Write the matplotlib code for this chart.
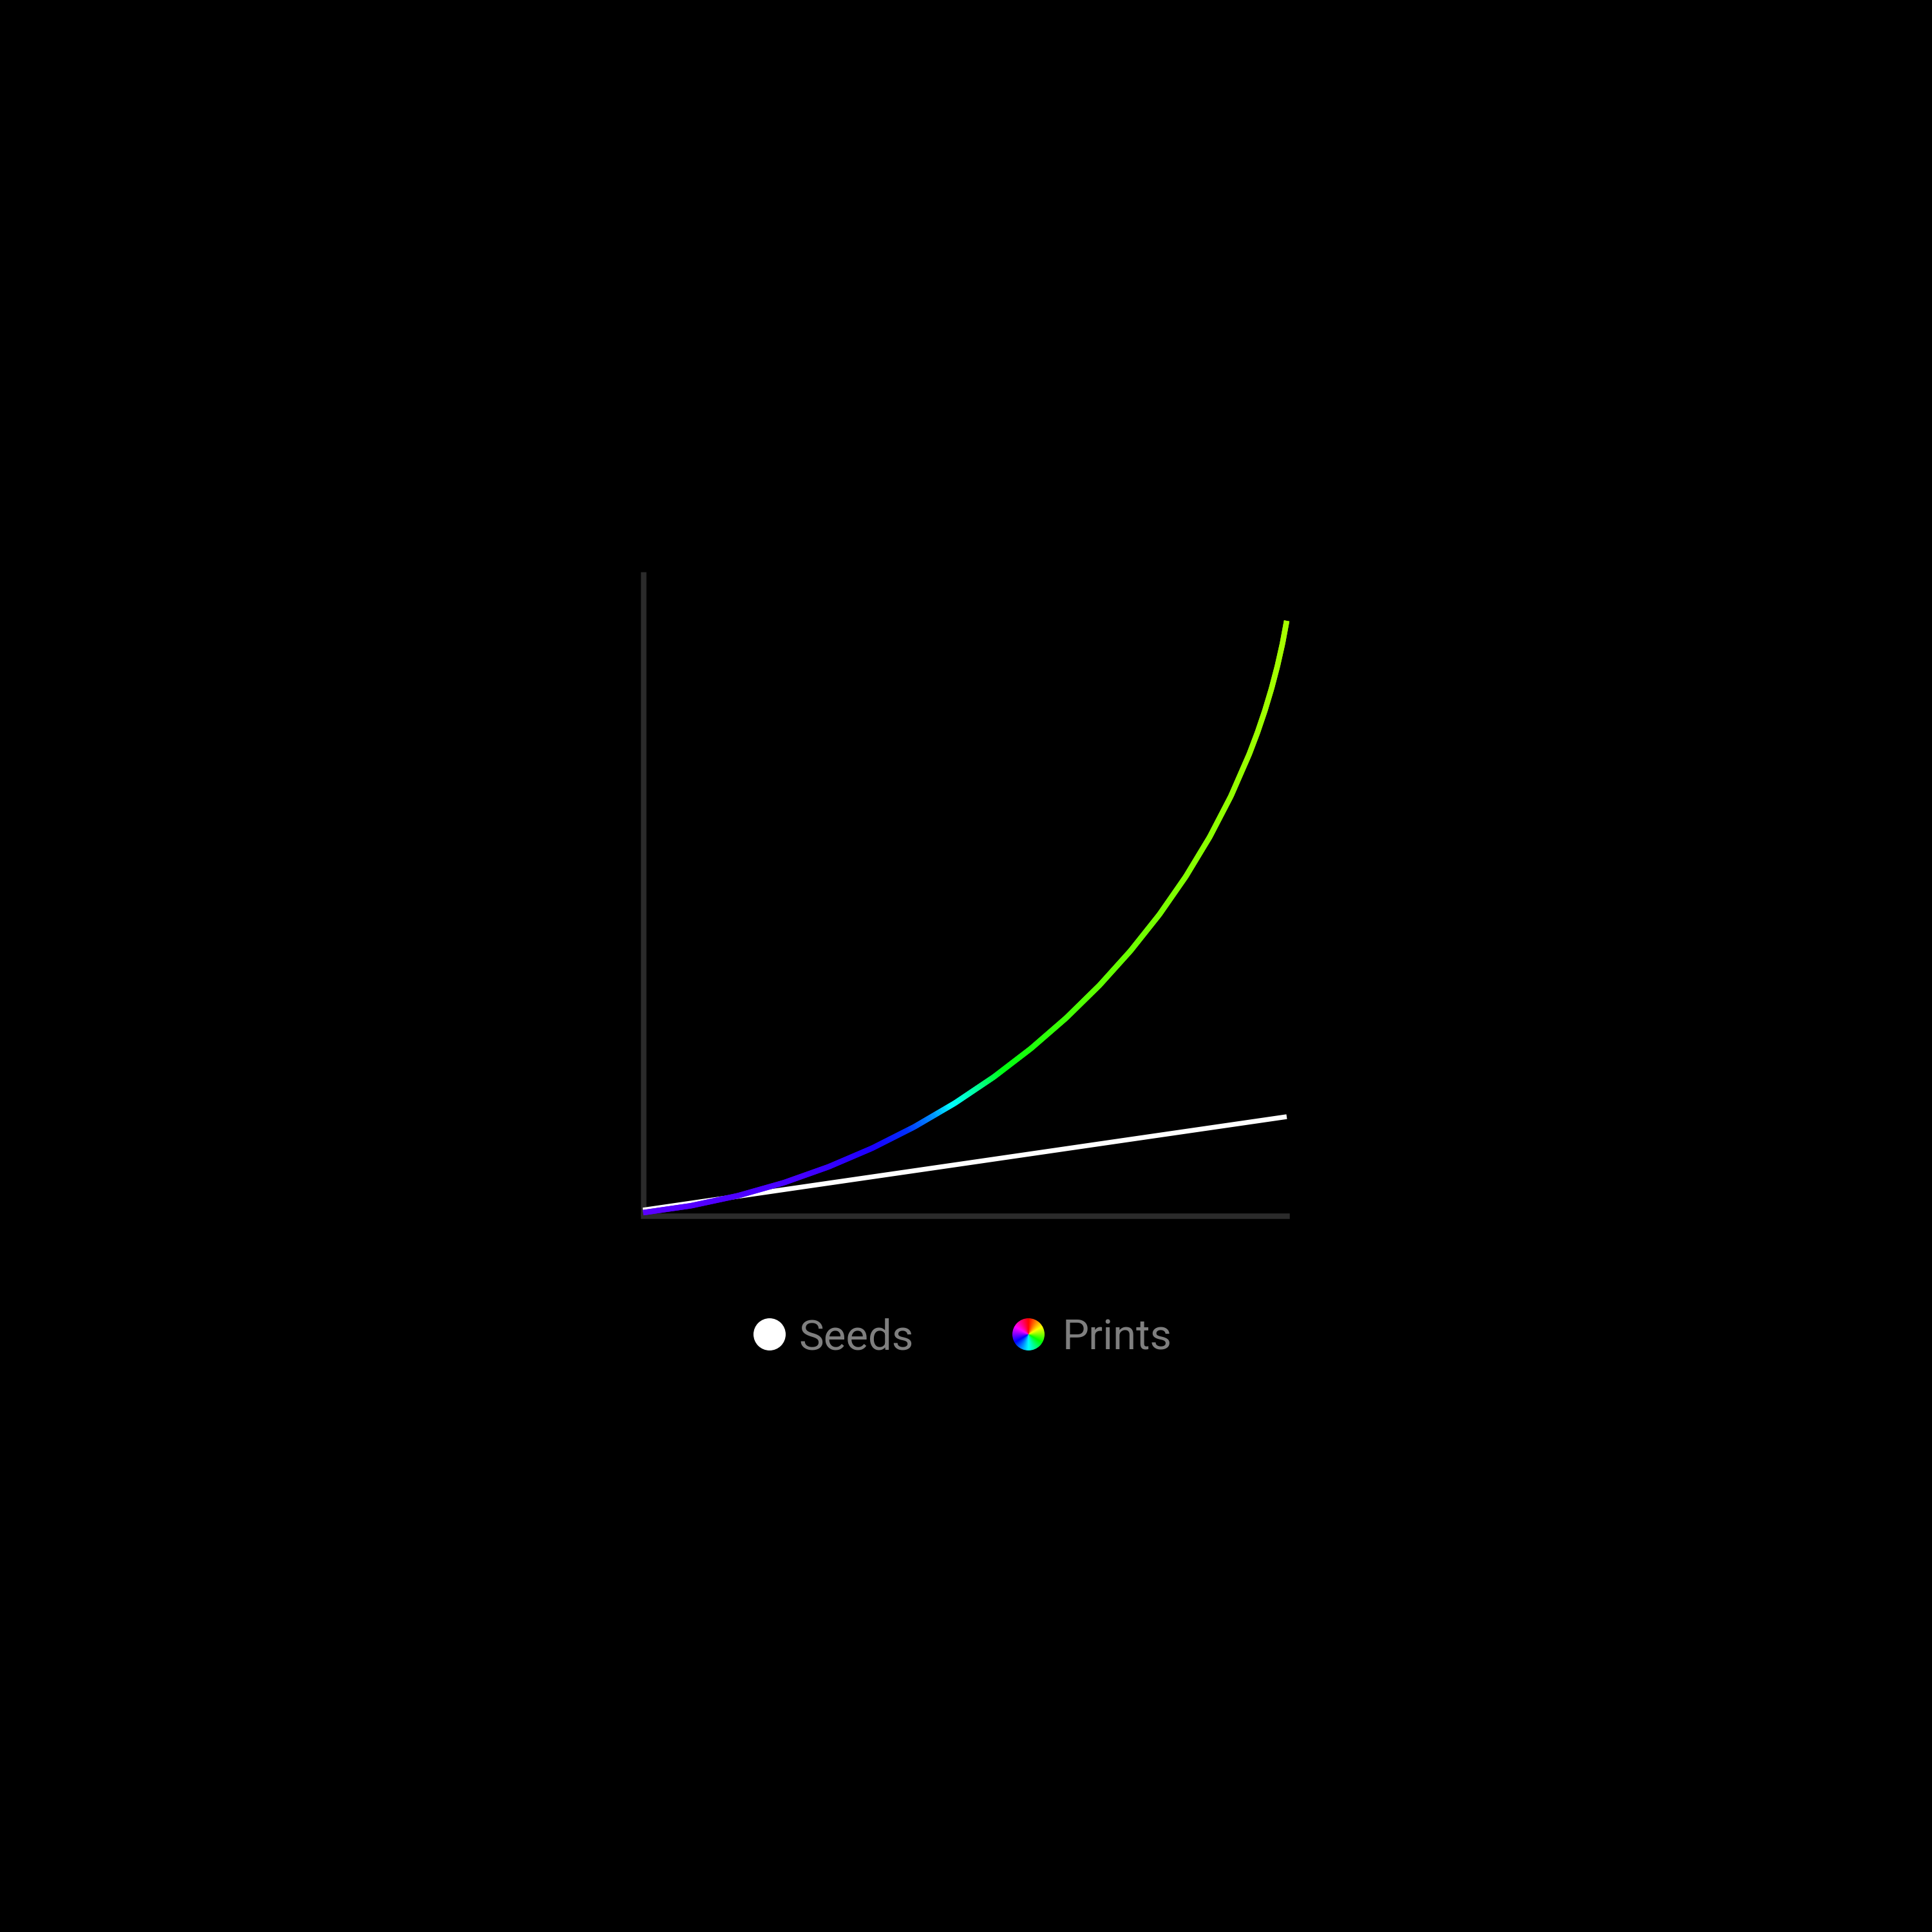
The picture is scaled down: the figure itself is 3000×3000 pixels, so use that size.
import matplotlib
matplotlib.use("Agg")
import matplotlib.pyplot as plt
import numpy as np
from matplotlib.collections import LineCollection
from matplotlib.colors import LinearSegmentedColormap, hsv_to_rgb
from matplotlib.patches import Circle

# data (x: 0..100 of axis width, y: 0..100 of axis height)
prints_x = [0, 7.44, 14.73, 21.87, 28.83, 35.59, 42.14, 48.45, 54.50, 60.27,
            65.75, 70.91, 75.74, 80.22, 84.32, 88.03, 91.33, 94.19, 95.46, 96.61,
            97.64, 98.55, 99.34, 100]
prints = [0.50, 1.57, 3.13, 5.15, 7.62, 10.51, 13.82, 17.51, 21.57, 25.99,
          30.74, 35.80, 41.16, 46.79, 52.69, 58.82, 65.17, 71.72, 75.07, 78.46,
          81.89, 85.36, 88.86, 92.40]
seeds_x = [0, 25, 50, 75, 100]
seeds = [0.90, 4.53, 8.15, 11.78, 15.40]
labels = ["Seeds", "Prints"]

# gradient stops along x for the prints curve
grad_pos = [0.0, 0.25, 0.36, 0.41, 0.45, 0.48, 0.52, 0.56, 0.7, 0.85, 1.0]
grad_col = ["#5a00ff", "#4400ff", "#1a00ff", "#0030ff", "#0090ff", "#00ffff",
            "#00ff99", "#00ff10", "#5cff00", "#84ff00", "#a6ff00"]

BG = "#000000"
AXIS = "#2b2b2b"
TEXT = "#7f7f7f"
DPI = 100
PX = 72.0 / DPI  # points per pixel

plt.rcParams['font.family'] = ['Roboto', 'DejaVu Sans']

fig = plt.figure(figsize=(30, 30), dpi=DPI, facecolor=BG)
ax = fig.add_axes([998.5 / 3000, (3000 - 1888) / 3000, 999.5 / 3000, 1000 / 3000])
ax.set_facecolor(BG)
ax.set_xlim(0, 100)
ax.set_ylim(0, 100)
for s in ["top", "right"]:
    ax.spines[s].set_visible(False)
for s in ["left", "bottom"]:
    ax.spines[s].set_color(AXIS)
    ax.spines[s].set_linewidth(8.5 * PX)
ax.spines["left"].set_capstyle("butt")
ax.spines["bottom"].set_capstyle("projecting")
ax.set_xticks([])
ax.set_yticks([])

ax.plot(seeds_x, seeds, color="white", lw=7.5 * PX, solid_capstyle="butt",
        zorder=3, clip_on=False)

# gradient curve: each straight piece of the polyline is cut into short
# collinear bits so the colour can change smoothly along x.
# bits overlap by one step so no dark seams show between them
cmap = LinearSegmentedColormap.from_list("prints", list(zip(grad_pos, grad_col)))
pts = np.column_stack([prints_x, prints])
fine = [pts[0]]
for a, b in zip(pts[:-1], pts[1:]):
    f = np.linspace(0, 1, 41)[1:, None]
    fine.extend(a + (b - a) * f)
fine = np.array(fine)
n = len(fine)
ends = np.minimum(np.arange(n - 1) + 2, n - 1)
segs = np.stack([fine[:-1], fine[ends]], axis=1)
mid = (fine[:-1, 0] + fine[ends, 0]) / 2 / 100
lc = LineCollection(segs, colors=cmap(mid), linewidths=8.5 * PX,
                    capstyle="butt", zorder=4, clip_on=False)
ax.add_collection(lc)

# legend in figure pixel coordinates
lax = fig.add_axes([0, 0, 1, 1])
lax.set_xlim(0, 3000)
lax.set_ylim(3000, 0)
lax.axis("off")
lax.patch.set_alpha(0)

lax.add_patch(Circle((1195, 2072), 25, facecolor="white", edgecolor="none"))
lax.text(1240, 2095, labels[0], color=TEXT, fontsize=47, va="baseline", ha="left")

yy, xx = np.mgrid[-1:1:200j, -1:1:200j]
ang = (np.degrees(np.arctan2(xx, -yy)) % 360) / 360.0
hsv = np.dstack([ang, np.ones_like(ang), np.ones_like(ang)])
wheel = lax.imshow(hsv_to_rgb(hsv), extent=(1572, 1622, 2097, 2047), zorder=5)
ring = Circle((1597, 2072), 25, transform=lax.transData, facecolor="none", edgecolor="none")
lax.add_patch(ring)
wheel.set_clip_path(ring)
lax.set_xlim(0, 3000)
lax.set_ylim(3000, 0)
lax.text(1650, 2095, labels[1], color=TEXT, fontsize=47, va="baseline", ha="left")

fig.savefig("out.png", dpi=DPI, facecolor=BG)
